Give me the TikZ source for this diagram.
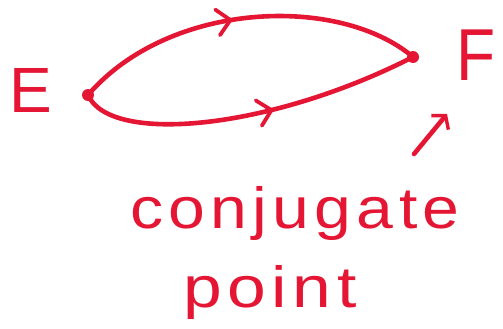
\documentclass[tikz,border=0pt]{standalone}
\usepackage{fontspec}
\setmainfont{Liberation Sans}
\newfontfamily\spaced[LetterSpace=8]{Liberation Sans}
\usetikzlibrary{arrows.meta,decorations.markings}
\definecolor{ink}{RGB}{228,22,52}
\tikzset{
  pen/.style={draw=ink, line width=4.6pt, line cap=round, line join=round},
  midarrow/.style={postaction={decorate,decoration={markings,
      mark=at position #1 with {\draw[ink, line width=3.8pt, line cap=round, line join=round] (-9pt,13pt) -- (4pt,0) -- (-9pt,-13pt);}}}},
  lbl/.style={text=ink, inner sep=0pt, font=\fontsize{64}{70}\selectfont},
  word/.style={text=ink, inner sep=0pt, font=\spaced\fontsize{58}{70}\selectfont},
  dotp/.style={circle, fill=ink, inner sep=0pt, minimum size=12pt}
}
\begin{document}
\begin{tikzpicture}[x=1pt,y=-1pt]
\useasboundingbox (0,0) rectangle (503,329);
\node[lbl] (Elbl) at (31,90) {E};
\node[lbl, yscale=1.15] (Flbl) at (476,55) {F};
\node[dotp] (E) at (88,95) {};
\node[dotp] (F) at (413,57) {};
\draw[pen, midarrow=0.45] (E.center) .. controls (170,0) and (340,-5) .. (F.center);
\draw[pen, midarrow=0.55] (E.center) .. controls (110,145) and (270,130) .. (F.center);
\coordinate (tail) at (414,154);
\coordinate (head) at (447,114);
\draw[pen, -{Straight Barb[length=9pt,width=22pt,line width=3.4pt]}] (tail) -- (head);
\node[word, xscale=1.14] (conj) at (295,214) {conjugate};
\node[word, xscale=1.2] (pt) at (270,293) {point};
\end{tikzpicture}
\end{document}
